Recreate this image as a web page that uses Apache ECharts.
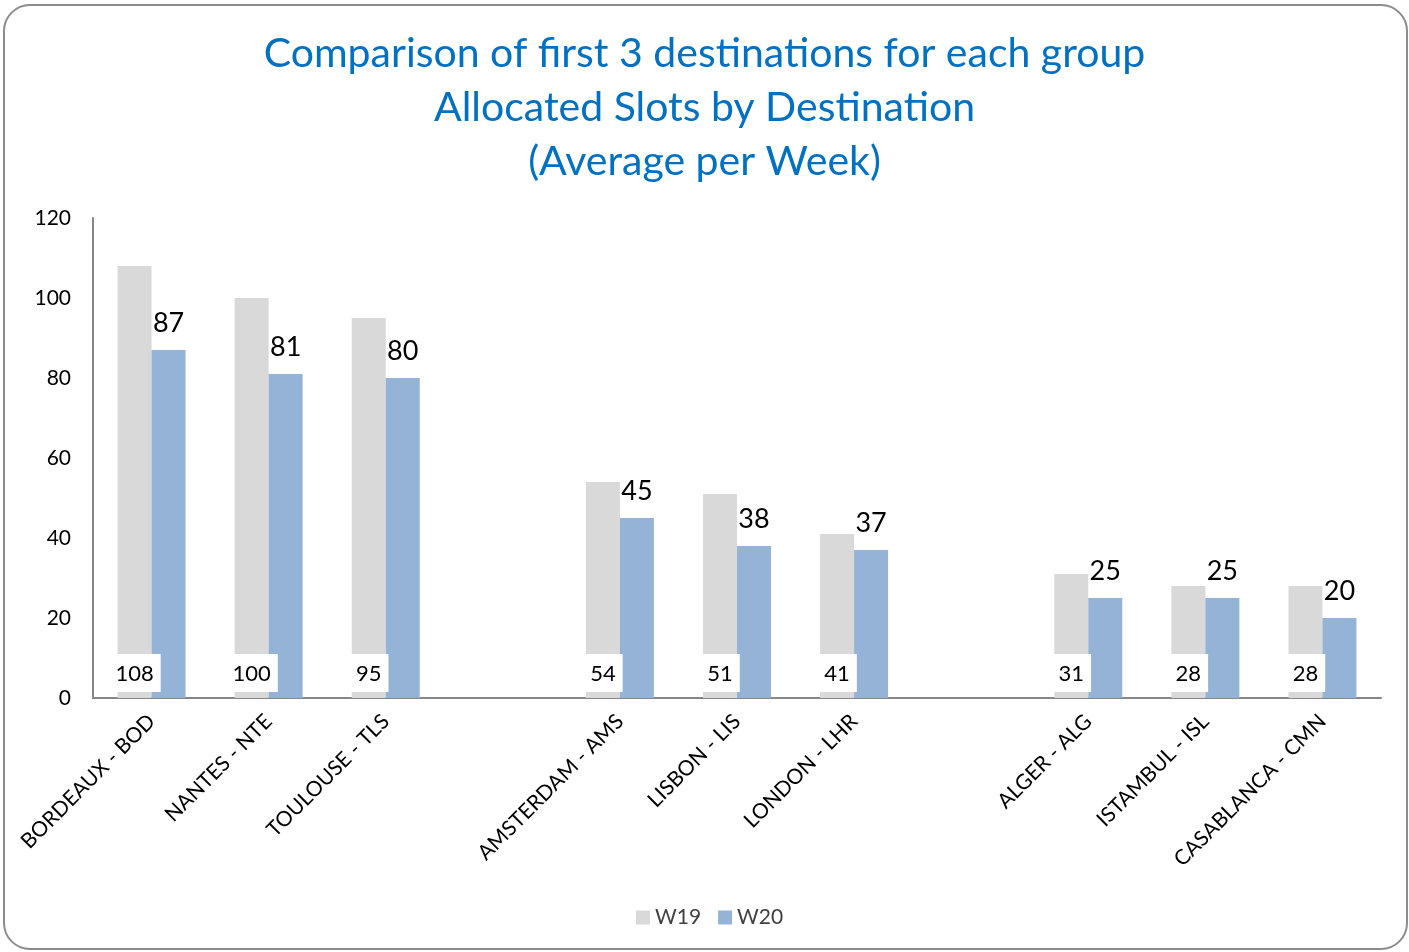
<!DOCTYPE html>
<html>
<head>
<meta charset="utf-8">
<script src="https://cdn.jsdelivr.net/npm/echarts@6/dist/echarts.min.js"></script>
<style>html,body{margin:0;padding:0;background:#fff}#c{width:1409px;height:952px}</style>
</head>
<body>
<div id="c"></div>
<script>
const categories = ['BORDEAUX - BOD','NANTES - NTE','TOULOUSE - TLS','','AMSTERDAM - AMS','LISBON - LIS','LONDON - LHR','','ALGER - ALG','ISTAMBUL - ISL','CASABLANCA - CMN'];
const w19 = [108,100,95,null,54,51,41,null,31,28,28];
const w20 = [87,81,80,null,45,38,37,null,25,25,20];
const seriesNames = ['W19','W20'];
const titleLines = ['Comparison of first 3 destinations for each group','Allocated Slots by Destination','(Average per Week)'];

const FONT = 'Lato';
const chart = echarts.init(document.getElementById('c'));
chart.setOption({
  animation: false,
  textStyle: {fontFamily: FONT},
  title: {
    text: titleLines.join('\n'),
    left: 'center', top: 22,
    textStyle: {color: '#0070C0', fontSize: 41, fontWeight: 'normal', lineHeight: 54, fontFamily: FONT}
  },
  graphic: [{
    type: 'rect', shape: {x: 4, y: 5, width: 1403, height: 944, r: 26},
    style: {fill: 'none', stroke: '#8c8c8c', lineWidth: 2}, z: -1
  }],
  legend: {
    data: seriesNames, bottom: 19, left: 631,
    itemWidth: 14, itemHeight: 14, itemGap: 17, icon: 'rect',
    textStyle: {fontSize: 21, color: '#404040', fontFamily: FONT}
  },
  grid: {left: 93, right: 28, top: 218, bottom: 254, containLabel: false},
  xAxis: {
    type: 'category', data: categories,
    axisLine: {lineStyle: {color: '#868686', width: 2}},
    axisTick: {show: false},
    axisLabel: {rotate: 45, interval: 0, fontSize: 21, color: '#000', margin: 20, fontFamily: FONT}
  },
  yAxis: {
    type: 'value', min: 0, max: 120, interval: 20,
    axisLine: {show: true, lineStyle: {color: '#868686', width: 2}},
    axisTick: {show: false},
    splitLine: {show: false},
    axisLabel: {fontSize: 21, color: '#000', margin: 22, fontFamily: FONT}
  },
  series: [
    {
      name: seriesNames[0], type: 'bar', data: w19, barWidth: 34, barGap: '0%',
      itemStyle: {color: '#D9D9D9'},
      label: {show: true, position: 'insideBottom', distance: 6, fontSize: 22, color: '#000',
        backgroundColor: '#fff', padding: [9, 7, 7, 7], fontFamily: FONT}
    },
    {
      name: seriesNames[1], type: 'bar', data: w20, barWidth: 34,
      itemStyle: {color: '#95B3D7'},
      label: {show: true, position: 'top', distance: 13, fontSize: 27, color: '#000', fontFamily: FONT}
    }
  ]
});
</script>
</body>
</html>
